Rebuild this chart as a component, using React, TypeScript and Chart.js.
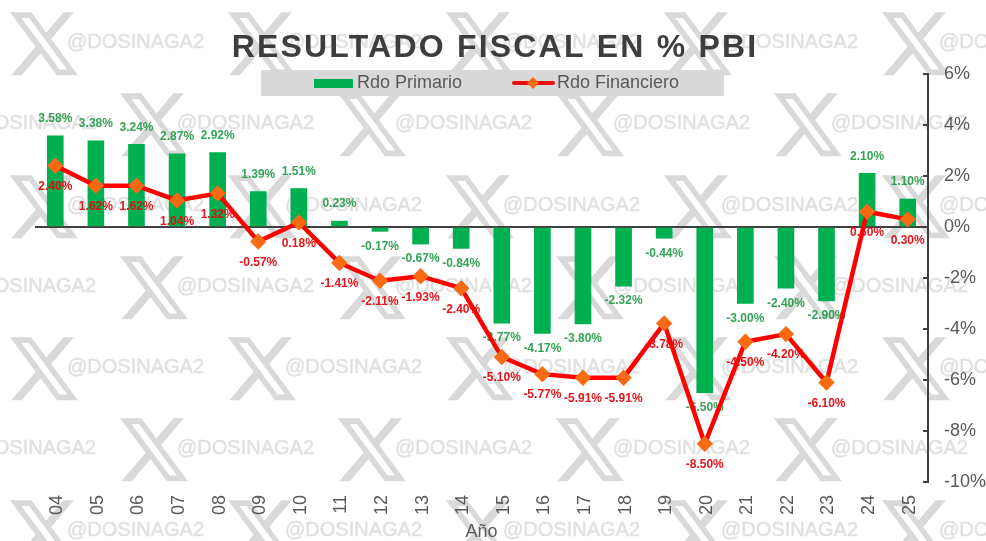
import React, { useRef, useEffect } from 'react';
import { Chart, registerables } from 'chart.js';

Chart.register(...registerables);

const years = ['04', '05', '06', '07', '08', '09', '10', '11', '12', '13', '14', '15', '16', '17', '18', '19', '20', '21', '22', '23', '24', '25'];
const rdoPrimario = [3.58, 3.38, 3.24, 2.87, 2.92, 1.39, 1.51, 0.23, -0.17, -0.67, -0.84, -3.77, -4.17, -3.8, -2.32, -0.44, -6.5, -3.0, -2.4, -2.9, 2.1, 1.1];
const rdoFinanciero = [2.4, 1.62, 1.62, 1.04, 1.32, -0.57, 0.18, -1.41, -2.11, -1.93, -2.4, -5.1, -5.77, -5.91, -5.91, -3.78, -8.5, -4.5, -4.2, -6.1, 0.6, 0.3];

const TITLE = 'RESULTADO FISCAL EN % PBI';
const WATERMARK = '@DOSINAGA2';
const FONT = '"Liberation Sans", Arial, sans-serif';
const GREEN = '#00b050';
const RED = '#ff0000';
const ORANGE = '#f96a12';
const TEXT = '#595959';
const DARK = '#404040';

// X logo outline, 24x24 viewbox, hollow arm a bit wider than the stock glyph
const X_PATH = 'M18.244 2.25h3.308l-7.227 8.26 8.502 11.24H16.17l-5.214-6.817L4.99 21.75H1.68l7.73-8.835L1.254 2.25H8.08l4.713 6.231zM17 19.95h2.4L7.3 4H4.9z';

const pct = (v: number) => v.toFixed(2) + '%';

// value labels go under the red line, above the bars
const valueLabels = {
  id: 'valueLabels',
  beforeDatasetDraw(chart: any, args: any) {
    if (args.index !== 1) return;
    const { ctx } = chart;
    ctx.save();
    ctx.font = `bold 12px ${FONT}`;
    ctx.textAlign = 'center';
    ctx.textBaseline = 'middle';
    chart.getDatasetMeta(0).data.forEach((bar: any, i: number) => {
      const v = rdoPrimario[i];
      ctx.fillStyle = 'rgba(34,155,70,0.92)';
      ctx.fillText(pct(v), bar.x, bar.y + (v >= 0 ? -17 : 15));
    });
    chart.getDatasetMeta(1).data.forEach((pt: any, i: number) => {
      ctx.fillStyle = 'rgba(228,8,16,0.95)';
      ctx.fillText(pct(rdoFinanciero[i]), pt.x, pt.y + 21);
    });
    ctx.restore();
  },
};

const headerAndWatermark = {
  id: 'headerAndWatermark',
  beforeDraw(chart: any) {
    const { ctx } = chart;
    const logo = new Path2D(X_PATH);
    const stamp = (x: number, y: number) => {
      ctx.save();
      ctx.translate(x - 4, y - 7);
      ctx.scale(3.15, 3.23);
      ctx.fillStyle = '#d9d9d9';
      ctx.fill(logo, 'evenodd');
      ctx.restore();
      ctx.fillText(WATERMARK, x + 57, y + 30);
      ctx.strokeText(WATERMARK, x + 57, y + 30);
    };
    ctx.save();
    ctx.fillStyle = '#e1e1e1';
    ctx.strokeStyle = '#e1e1e1';
    ctx.lineWidth = 0.5;
    ctx.font = `20px ${FONT}`;
    ctx.textAlign = 'left';
    ctx.textBaseline = 'middle';
    [12, 175, 337, 500].forEach((y) => {
      for (let k = -1; k < 5; k++) stamp(10 + 218 * k, y);
    });
    [93, 256, 418].forEach((y) => {
      for (let k = -1; k < 5; k++) stamp(120 + 218 * k, y);
    });
    ctx.restore();
  },
  beforeDatasetsDraw(chart: any) {
    const { ctx } = chart;
    ctx.save();
    // legend band
    ctx.fillStyle = '#d9d9d9';
    ctx.fillRect(261, 70, 463, 26);
    ctx.fillStyle = GREEN;
    ctx.fillRect(314, 79, 39, 9);
    ctx.strokeStyle = '#e81010';
    ctx.lineWidth = 4;
    ctx.lineCap = 'round';
    ctx.beginPath();
    ctx.moveTo(514, 83);
    ctx.lineTo(553, 83);
    ctx.stroke();
    ctx.fillStyle = ORANGE;
    ctx.beginPath();
    ctx.moveTo(533, 77);
    ctx.lineTo(539, 83);
    ctx.lineTo(533, 89);
    ctx.lineTo(527, 83);
    ctx.closePath();
    ctx.fill();
    ctx.font = `18px ${FONT}`;
    ctx.fillStyle = TEXT;
    ctx.textBaseline = 'middle';
    ctx.textAlign = 'left';
    ctx.fillText(chart.data.datasets[0].label, 357, 83);
    ctx.fillText(chart.data.datasets[1].label, 557, 83);
    // title
    ctx.font = `bold 32px ${FONT}`;
    ctx.fillStyle = 'rgba(52,52,52,0.95)';
    (ctx as any).letterSpacing = '2.2px';
    ctx.textAlign = 'center';
    ctx.fillText(TITLE, 495, 48);
    ctx.restore();
  },
};

const App: React.FC = () => {
  const chartRef = useRef<HTMLCanvasElement>(null);

  useEffect(() => {
    if (!chartRef.current) return;
    const chart = new Chart(chartRef.current, {
      type: 'bar',
      data: {
        labels: years,
        datasets: [
          {
            type: 'bar',
            label: 'Rdo Primario',
            data: rdoPrimario,
            backgroundColor: GREEN,
            barThickness: 16,
            order: 2,
          },
          {
            type: 'line',
            label: 'Rdo Financiero',
            data: rdoFinanciero,
            borderColor: RED,
            borderWidth: 4.5,
            tension: 0,
            pointStyle: 'rectRot',
            pointRadius: 5,
            pointBackgroundColor: ORANGE,
            pointBorderColor: ORANGE,
            order: 1,
          },
        ],
      },
      options: {
        responsive: false,
        animation: false,
        layout: { padding: { left: 35, top: 74, right: 0, bottom: 0 } },
        plugins: {
          legend: { display: false },
          title: { display: false },
          tooltip: { enabled: false },
        },
        scales: {
          x: {
            offset: true,
            grid: { display: false },
            border: { display: false },
            afterFit: (s: any) => { s.height = 59; },
            ticks: {
              minRotation: 90,
              maxRotation: 90,
              autoSkip: false,
              padding: 5,
              labelOffset: 2,
              color: TEXT,
              font: { size: 18, family: FONT },
            },
            title: {
              display: true,
              text: 'Año',
              color: TEXT,
              padding: { top: 0, bottom: -2 },
              font: { size: 18, family: FONT },
            },
          },
          y: {
            position: 'right',
            min: -10,
            max: 6,
            afterFit: (s: any) => { s.width = 58; },
            border: { display: true, color: DARK, width: 2 },
            grid: {
              drawOnChartArea: true,
              color: (c: any) => (c.tick && c.tick.value === 0 ? DARK : 'transparent'),
              lineWidth: 2,
              tickColor: DARK,
              tickWidth: 2,
              tickLength: -5,
            },
            ticks: {
              stepSize: 2,
              padding: 21,
              color: TEXT,
              font: { size: 18, family: FONT },
              callback: (v: any) => v + '%',
            },
          },
        },
      },
      plugins: [valueLabels, headerAndWatermark],
    } as any);

    return () => {
      chart.destroy();
    };
  }, []);

  return (
    <div style={{ position: 'absolute', left: 0, top: 0 }}>
      <canvas ref={chartRef} width={986} height={541} style={{ display: 'block' }} />
    </div>
  );
};

export default App;
